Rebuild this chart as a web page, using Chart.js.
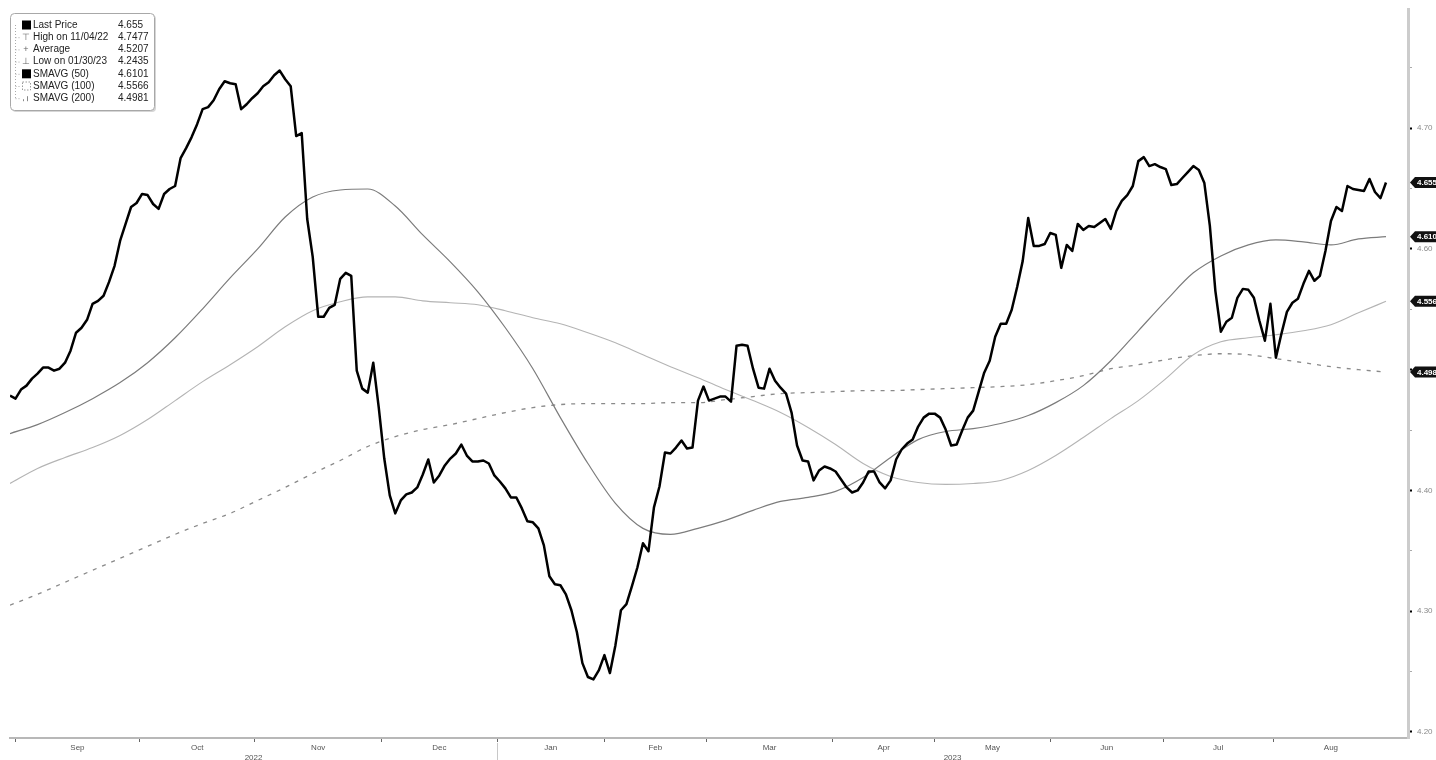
<!DOCTYPE html>
<html>
<head>
<meta charset="utf-8">
<script src="https://cdn.jsdelivr.net/npm/chart.js@4.4.1/dist/chart.umd.min.js"></script>
<style>
html,body{margin:0;padding:0;background:#fff;}
canvas{display:block;}
</style>
</head>
<body>
<canvas id="c" width="1436" height="760"></canvas>
<script>
// ---------------- DATA ----------------
const monthLabels = ['Sep','Oct','Nov','Dec','Jan','Feb','Mar','Apr','May','Jun','Jul','Aug'];
const monthStarts = [1, 23.5, 44.5, 67.5, 88.5, 108, 126.5, 149.5, 168, 189, 209.5, 229.5, 250.5];
const yearLabels = ['2022', '2023'];
const yearStarts = [0, 88.5, 254];
const yTickValues = [4.20, 4.25, 4.30, 4.35, 4.40, 4.45, 4.50, 4.55, 4.60, 4.65, 4.70, 4.75];

// daily last price (trading days)
const lastPrice = [
4.4785,4.4760,4.4835,4.4868,4.4926,4.4967,4.5017,4.5017,4.4992,4.5008,
4.5058,4.5157,4.5306,4.5347,4.5413,4.5545,4.5570,4.5612,4.5727,4.5860,
4.6066,4.6207,4.6347,4.6380,4.6455,4.6446,4.6372,4.6331,4.6455,4.6496,
4.6521,4.6752,4.6835,4.6926,4.7033,4.7157,4.7174,4.7231,4.7322,4.7388,
4.7372,4.7364,4.7157,4.7198,4.7248,4.7289,4.7347,4.7380,4.7438,4.7477,
4.7405,4.7347,4.6934,4.6959,4.6248,4.5934,4.5438,4.5438,4.5512,4.5537,
4.5752,4.5802,4.5777,4.4992,4.4843,4.4810,4.5058,4.4686,4.4264,4.3959,
4.3810,4.3917,4.3967,4.3983,4.4025,4.4132,4.4256,4.4066,4.4124,4.4207,
4.4264,4.4306,4.4380,4.4289,4.4240,4.4240,4.4248,4.4223,4.4124,4.4074,
4.4017,4.3942,4.3942,4.3851,4.3744,4.3736,4.3686,4.3545,4.3289,4.3223,
4.3215,4.3140,4.3008,4.2826,4.2570,4.2455,4.2435,4.2512,4.2636,4.2488,
4.2719,4.3008,4.3058,4.3207,4.3364,4.3562,4.3496,4.3860,4.4033,4.4314,
4.4306,4.4355,4.4413,4.4347,4.4355,4.4744,4.4860,4.4744,4.4760,4.4777,
4.4777,4.4736,4.5198,4.5207,4.5198,4.5008,4.4851,4.4843,4.5008,4.4909,
4.4851,4.4802,4.4645,4.4372,4.4248,4.4240,4.4083,4.4165,4.4198,4.4182,
4.4157,4.4091,4.4025,4.3983,4.4000,4.4066,4.4157,4.4157,4.4066,4.4017,
4.4083,4.4256,4.4339,4.4388,4.4421,4.4529,4.4603,4.4636,4.4636,4.4603,
4.4504,4.4372,4.4380,4.4496,4.4603,4.4661,4.4818,4.4975,4.5074,4.5273,
4.5380,4.5380,4.5496,4.5686,4.5901,4.6256,4.6025,4.6025,4.6041,4.6132,
4.6116,4.5843,4.6033,4.5983,4.6207,4.6157,4.6190,4.6182,4.6215,4.6248,
4.6165,4.6314,4.6397,4.6446,4.6521,4.6727,4.6760,4.6686,4.6702,4.6678,
4.6661,4.6529,4.6537,4.6587,4.6636,4.6686,4.6653,4.6545,4.6190,4.5653,
4.5314,4.5397,4.5430,4.5595,4.5669,4.5661,4.5595,4.5405,4.5240,4.5545,
4.5099,4.5298,4.5479,4.5554,4.5587,4.5711,4.5818,4.5736,4.5777,4.5983,
4.6231,4.6347,4.6314,4.6521,4.6496,4.6488,4.6479,4.6579,4.6471,4.6421,4.6550
];

// moving averages, read every 5 trading days
const smaStep = 5;
const smavg50 = [
4.4471,4.4545,4.4645,4.4760,4.4893,4.5058,4.5264,4.5504,4.5760,4.6000,
4.6264,4.6430,4.6488,4.6496,4.6355,4.6116,4.5893,4.5645,4.5347,4.5008,
4.4603,4.4223,4.3893,4.3686,4.3636,4.3686,4.3752,4.3835,4.3909,4.3942,
4.3992,4.4107,4.4273,4.4421,4.4488,4.4512,4.4554,4.4620,4.4727,4.4868,
4.5074,4.5322,4.5570,4.5802,4.5942,4.6033,4.6074,4.6058,4.6033,4.6083,4.6101
];
const smavg100 = [
4.4058,4.4182,4.4273,4.4355,4.4455,4.4587,4.4744,4.4901,4.5041,4.5190,
4.5355,4.5488,4.5562,4.5603,4.5603,4.5570,4.5554,4.5537,4.5488,4.5430,
4.5380,4.5306,4.5223,4.5124,4.5025,4.4934,4.4835,4.4744,4.4645,4.4521,
4.4380,4.4223,4.4116,4.4066,4.4050,4.4058,4.4083,4.4165,4.4289,4.4438,
4.4595,4.4744,4.4926,4.5124,4.5231,4.5264,4.5289,4.5322,4.5372,4.5471,4.5566
];
const smavg200 = [
4.3050,4.3140,4.3240,4.3339,4.3438,4.3537,4.3636,4.3727,4.3810,4.3917,
4.4025,4.4140,4.4248,4.4364,4.4446,4.4504,4.4545,4.4595,4.4645,4.4686,
4.4711,4.4719,4.4719,4.4719,4.4727,4.4727,4.4752,4.4777,4.4802,4.4810,
4.4818,4.4826,4.4826,4.4835,4.4843,4.4851,4.4860,4.4876,4.4909,4.4950,
4.5008,4.5041,4.5083,4.5116,4.5132,4.5124,4.5091,4.5058,4.5025,4.5000,4.4981
];

const legendNames = ['Last Price', 'High on 11/04/22', 'Average', 'Low on 01/30/23', 'SMAVG (50)', 'SMAVG (100)', 'SMAVG (200)'];
const legendValues = ['4.655', '4.7477', '4.5207', '4.2435', '4.6101', '4.5566', '4.4981'];

// ---------------- BUILD ----------------
const priceData = lastPrice.map((v, i) => ({x: i, y: v}));
const toSma = arr => arr.map((v, k) => ({x: k * smaStep, y: v}));

const FONT = "'Liberation Sans', Arial, sans-serif";

function truncate3(v) { return (Math.floor(v * 1000 + 1e-6) / 1000).toFixed(3); }

const overlay = {
  id: 'overlay',
  afterDraw(chart) {
    const ctx = chart.ctx;
    const xs = chart.scales.x, ys = chart.scales.y;
    ctx.save();
    // year separator
    const sx = Math.round(xs.getPixelForValue(yearStarts[1])) + 0.5;
    ctx.strokeStyle = '#c8c8c8';
    ctx.lineWidth = 1;
    ctx.beginPath(); ctx.moveTo(sx, 743); ctx.lineTo(sx, 760); ctx.stroke();

    // right-side value tags
    const tags = [
      lastPrice[lastPrice.length - 1],
      smavg50[smavg50.length - 1],
      smavg100[smavg100.length - 1],
      smavg200[smavg200.length - 1]
    ];
    const ax = chart.chartArea.right + 2;
    tags.forEach(v => {
      const y = ys.getPixelForValue(v);
      ctx.fillStyle = '#111';
      ctx.beginPath();
      ctx.moveTo(ax, y);
      ctx.lineTo(ax + 5, y - 5.5);
      ctx.lineTo(1440, y - 5.5);
      ctx.lineTo(1440, y + 5.5);
      ctx.lineTo(ax + 5, y + 5.5);
      ctx.closePath();
      ctx.fill();
      ctx.fillStyle = '#fff';
      ctx.font = 'bold 8px ' + FONT;
      ctx.textBaseline = 'middle';
      ctx.textAlign = 'left';
      ctx.fillText(truncate3(v), ax + 7, y + 0.5);
    });

    // legend box
    const bx = 10, by = 13, bw = 144, bh = 97;
    ctx.fillStyle = '#d6d6d6';
    ctx.beginPath(); ctx.roundRect(bx + 2, by + 2, bw, bh, 4); ctx.fill();
    ctx.fillStyle = '#fff';
    ctx.strokeStyle = '#a8a8a8';
    ctx.lineWidth = 1;
    ctx.beginPath(); ctx.roundRect(bx + 0.5, by + 0.5, bw, bh, 4); ctx.fill(); ctx.stroke();

    const rowY = k => 25 + 12.2 * k;
    // tree connector
    ctx.strokeStyle = '#aaa';
    ctx.setLineDash([1, 2]);
    ctx.beginPath();
    ctx.moveTo(15.5, rowY(0)); ctx.lineTo(15.5, rowY(6));
    for (let k = 1; k < 7; k++) { ctx.moveTo(15.5, rowY(k) + 0.5); ctx.lineTo(21, rowY(k) + 0.5); }
    ctx.stroke();
    ctx.setLineDash([]);

    ctx.textBaseline = 'middle';
    for (let k = 0; k < 7; k++) {
      const y = rowY(k);
      // icons
      ctx.font = '9px ' + FONT;
      if (k === 0 || k === 4) {
        ctx.fillStyle = '#000';
        ctx.fillRect(22, y - 4.5, 9, 9);
      } else if (k === 1 || k === 2 || k === 3) {
        ctx.fillStyle = '#666';
        ctx.textAlign = 'center';
        ctx.fillText(k === 1 ? '\u22A4' : (k === 2 ? '+' : '\u22A5'), 26, y);
      } else if (k === 5) {
        ctx.strokeStyle = '#999';
        ctx.setLineDash([1.5, 1.5]);
        ctx.strokeRect(22.5, y - 4, 8, 8);
        ctx.setLineDash([]);
      } else if (k === 6) {
        ctx.fillStyle = '#888';
        ctx.fillRect(23, y + 1, 1, 2);
        ctx.fillRect(27, y - 2, 1, 5);
      }
      ctx.font = '10px ' + FONT;
      ctx.fillStyle = '#222';
      ctx.textAlign = 'left';
      ctx.fillText(legendNames[k], 33, y);
      ctx.fillText(legendValues[k], 118, y);
    }
    ctx.restore();
  }
};

new Chart(document.getElementById('c'), {
  type: 'line',
  data: {
    datasets: [
      { label: 'Last Price', data: priceData, borderColor: '#000', borderWidth: 2.5,
        borderJoinStyle: 'round', tension: 0, pointRadius: 0, order: 0 },
      { label: 'SMAVG (50)', data: toSma(smavg50), borderColor: '#7c7c7c', borderWidth: 1.2,
        cubicInterpolationMode: 'monotone', pointRadius: 0, order: 1 },
      { label: 'SMAVG (100)', data: toSma(smavg100), borderColor: '#b4b4b4', borderWidth: 1.1,
        cubicInterpolationMode: 'monotone', pointRadius: 0, order: 2 },
      { label: 'SMAVG (200)', data: toSma(smavg200), borderColor: '#8a8a8a', borderWidth: 1.3,
        borderDash: [4, 6], cubicInterpolationMode: 'monotone', pointRadius: 0, order: 3 }
    ]
  },
  options: {
    responsive: false,
    animation: false,
    devicePixelRatio: 1,
    layout: { padding: { left: 10, top: 8, right: 0, bottom: 0 } },
    plugins: { legend: { display: false }, tooltip: { enabled: false } },
    scales: {
      x: {
        type: 'linear',
        min: 0, max: 254,
        afterBuildTicks(scale) {
          const t = [];
          for (let k = 0; k < monthLabels.length; k++) {
            t.push({ value: monthStarts[k], lab: '', kind: 'b' });
            t.push({ value: (monthStarts[k] + monthStarts[k + 1]) / 2, lab: monthLabels[k], kind: 'm' });
          }
          for (let k = 0; k < yearLabels.length; k++) {
            t.push({ value: (yearStarts[k] + yearStarts[k + 1]) / 2, lab: ['', yearLabels[k]], kind: 'y' });
          }
          t.sort((a, b) => a.value - b.value);
          scale.ticks = t;
        },
        afterFit(scale) { scale.height = 22; },
        border: { color: '#b8b8b8', width: 2 },
        grid: {
          drawOnChartArea: false,
          tickLength: 4,
          tickWidth: 1,
          tickColor: c => (c.tick && c.tick.kind === 'b') ? '#666' : 'rgba(0,0,0,0)'
        },
        ticks: {
          autoSkip: false, maxRotation: 0, minRotation: 0, padding: 0,
          color: '#555',
          font: { family: FONT, size: 8, lineHeight: 1.35 },
          callback: (v, i, ticks) => ticks[i].lab
        }
      },
      y: {
        type: 'linear',
        position: 'right',
        min: 4.195, max: 4.798,
        afterBuildTicks(scale) {
          scale.ticks = yTickValues.map(v => ({ value: v, maj: Math.round(v * 100) % 10 === 0 }));
        },
        afterFit(scale) { scale.width = 28; },
        border: { color: '#cccccc', width: 3 },
        grid: {
          drawOnChartArea: false,
          tickLength: 4,
          tickWidth: c => (c.tick && c.tick.maj) ? 2 : 1,
          tickColor: c => (c.tick && c.tick.maj) ? '#000' : '#aaa'
        },
        ticks: {
          padding: 5,
          color: '#8a8a8a',
          font: { family: FONT, size: 8 },
          callback: (v, i, ticks) => ticks[i].maj ? v.toFixed(2) : ''
        }
      }
    }
  },
  plugins: [overlay]
});
</script>
</body>
</html>
